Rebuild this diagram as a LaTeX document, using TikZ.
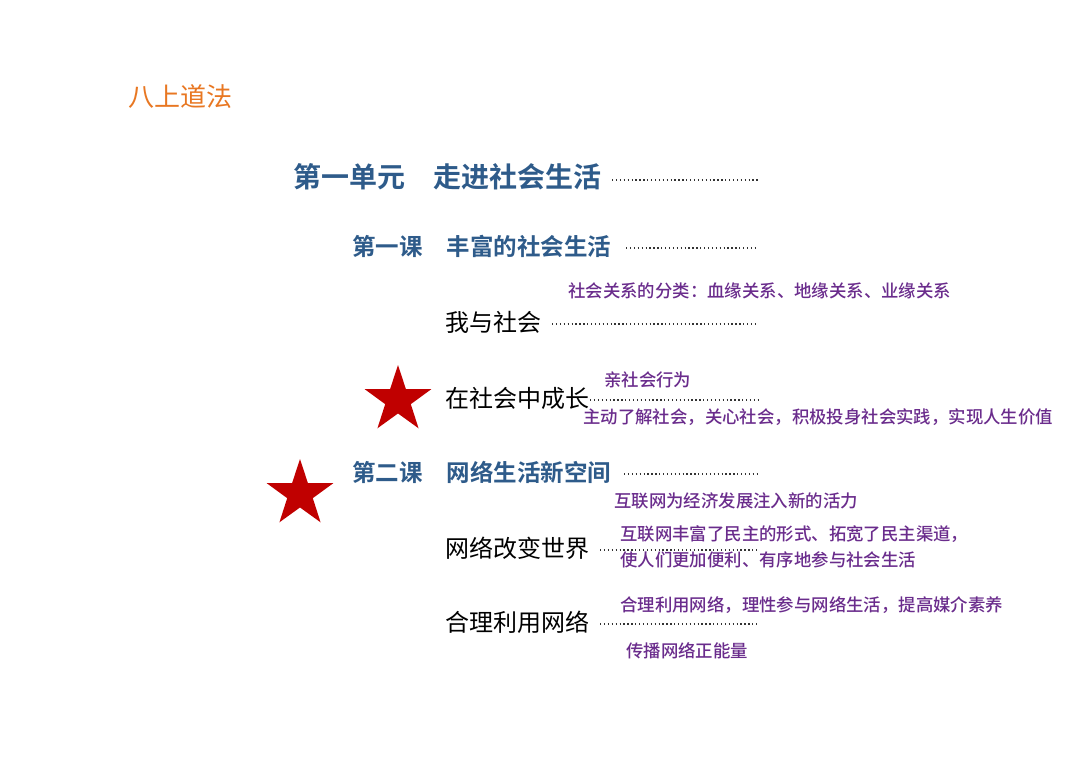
\documentclass[tikz,border=0pt]{standalone}
\usepackage{fontspec}
\newfontfamily\cjk{Noto Sans CJK SC}
\newfontfamily\cjkb{Noto Sans CJK SC Bold}
\newfontfamily\cjkm{Noto Sans CJK SC Medium}
\usetikzlibrary{shapes.geometric}
\definecolor{hblue}{HTML}{2E5B8A}
\definecolor{pur}{HTML}{6A2C8C}
\definecolor{org}{HTML}{E87722}
\definecolor{sred}{HTML}{C00000}
\tikzset{
 t/.style={anchor=west,inner sep=0pt},
 h1/.style={t,text=hblue,font=\cjkb\fontsize{28}{30}\selectfont},
 h2/.style={t,text=hblue,font=\cjkb\fontsize{23.5}{26}\selectfont},
 bk/.style={t,text=black,font=\cjk\fontsize{24}{26}\selectfont},
 pp/.style={t,text=pur,font=\cjkm\fontsize{17.4}{19}\selectfont},
 dl/.style={line width=1.3pt,dash pattern=on 1.3pt off 2.6pt,black!80},
 starn/.style={star,star points=5,star point ratio=2.6,fill=sred,minimum size=70pt,inner sep=0pt}
}
\begin{document}
\begin{tikzpicture}[x=1pt,y=-1pt]
\useasboundingbox (0,0) rectangle (1080,764);
\node[t,text=org,font=\cjk\fontsize{26}{28}\selectfont] (title) at (128,97) {八上道法};
\node[h1] (u1) at (293,177) {第一单元\hspace{28pt}走进社会生活};
\coordinate (u1e) at (760,180); \draw[dl] (612,180) -- (u1e);
\node[h2] (k1) at (352,246) {第一课\hspace{24pt}丰富的社会生活};
\coordinate (k1e) at (758,248); \draw[dl] (626,248) -- (k1e);
\node[pp] (p1) at (568,291) {社会关系的分类：血缘关系、地缘关系、业缘关系};
\node[bk] (s1) at (445,322) {我与社会};
\coordinate (s1e) at (758,324); \draw[dl] (552,324) -- (s1e);
\node[starn] (st1) at (398,400) {};
\node[bk] (s2) at (445,398) {在社会中成长};
\coordinate (s2e) at (758,400); \draw[dl] (590,400) -- (s2e);
\node[pp] (p2) at (604,380) {亲社会行为};
\node[pp] (p3) at (583,417) {主动了解社会，关心社会，积极投身社会实践，实现人生价值};
\node[starn] (st2) at (300,494) {};
\node[h2] (k2) at (352,472) {第二课\hspace{24pt}网络生活新空间};
\coordinate (k2e) at (758,474); \draw[dl] (624,474) -- (k2e);
\node[pp] (p4) at (614,501) {互联网为经济发展注入新的活力};
\node[bk] (s3) at (445,548) {网络改变世界};
\coordinate (s3e) at (758,550); \draw[dl] (600,550) -- (s3e);
\node[pp] (p5) at (620,534) {互联网丰富了民主的形式、拓宽了民主渠道，};
\node[pp] (p6) at (620,560) {使人们更加便利、有序地参与社会生活};
\node[bk] (s4) at (445,622) {合理利用网络};
\coordinate (s4e) at (758,624); \draw[dl] (600,624) -- (s4e);
\node[pp] (p7) at (620,605) {合理利用网络，理性参与网络生活，提高媒介素养};
\node[pp] (p8) at (626,651) {传播网络正能量};
\end{tikzpicture}
\end{document}
